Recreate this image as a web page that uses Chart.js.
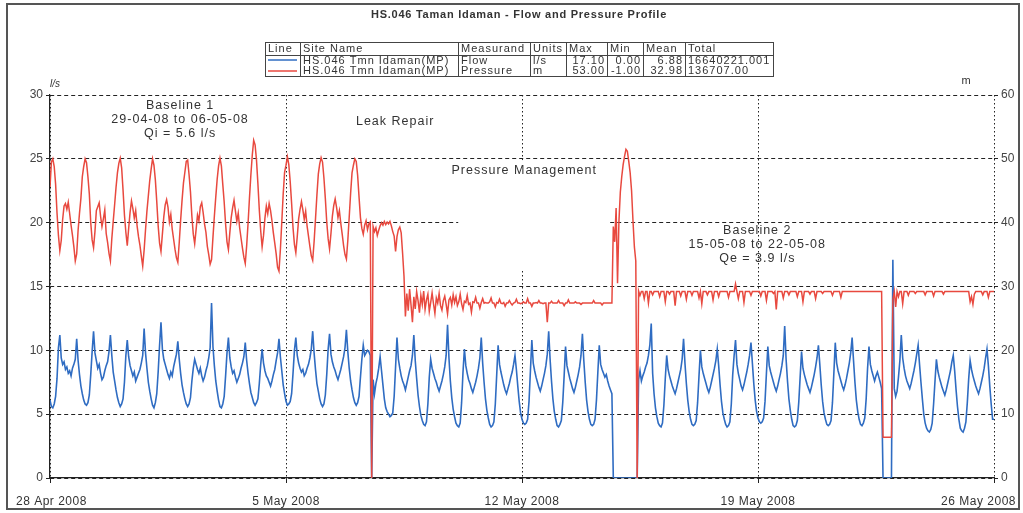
<!DOCTYPE html>
<html>
<head>
<meta charset="utf-8">
<title>HS.046 Taman Idaman - Flow and Pressure Profile</title>
<script src="https://cdn.jsdelivr.net/npm/chart.js@4.4.1/dist/chart.umd.min.js"></script>
<style>
  html, body { margin: 0; padding: 0; background: #fff; }
  #wrap { width: 1023px; height: 513px; position: relative; }
</style>
</head>
<body>
<div id="wrap"><canvas id="profileChart" width="1023" height="513"></canvas></div>
<script>
// x = hours since 28 Apr 2008 00:00, one reading per hour (one row per day)
const xTickHours = [0, 168, 336, 504, 672];
const xTickLabels = ['28 Apr 2008', '5 May 2008', '12 May 2008', '19 May 2008', '26 May 2008'];

// Flow, l/s (left axis)
const flowWk1 = [
  6.1, 5.6, 5.5, 5.8, 6.4, 7.8, 10.2, 11.2, 9.4, 8.9, 9.1, 8.5, 8.7, 8.2, 8.4, 8.0, 8.6, 8.9, 9.3, 10.9, 9.2, 8.1, 7.2, 6.6,
  6.1, 5.8, 5.7, 5.9, 6.5, 8.1, 9.9, 11.5, 9.8, 9.2, 8.6, 8.9, 8.2, 7.7, 7.9, 8.4, 8.8, 9.1, 9.9, 11.2, 9.6, 8.3, 7.6, 6.9,
  6.3, 5.9, 5.6, 5.8, 6.2, 7.5, 9.6, 10.8, 9.5, 8.8, 8.4, 8.0, 8.3, 7.6, 7.9, 8.2, 8.5, 9.0, 9.6, 11.7, 9.8, 8.6, 7.5, 6.8,
  6.2, 5.7, 5.5, 5.9, 6.6, 8.3, 10.4, 12.2, 10.1, 9.3, 8.9, 8.5, 8.1, 7.8, 8.3, 8.0, 8.7, 9.2, 9.7, 10.7, 9.3, 8.2, 7.3, 6.7,
  6.2, 5.8, 5.6, 5.8, 6.3, 7.6, 8.6, 9.3, 8.9, 8.5, 8.2, 8.6, 8.0, 7.6, 7.9, 8.4, 8.8, 9.4, 10.2, 13.7, 10.3, 8.8, 7.6, 6.8,
  6.1, 5.6, 5.5, 5.8, 6.4, 8.0, 9.8, 11.0, 9.4, 8.7, 8.2, 8.4, 7.9, 7.5, 7.8, 8.1, 8.6, 9.0, 9.5, 10.6, 9.2, 8.2, 7.4, 6.7,
  6.3, 5.9, 5.7, 5.9, 6.2, 7.4, 8.9, 10.1, 9.0, 8.4, 8.0, 7.8, 7.5, 7.2, 7.6, 8.1, 8.5, 9.2, 9.8, 10.9, 9.5, 8.4, 7.3, 6.6
];
const flowWk2 = [
  6.0, 5.7, 5.8, 6.0, 6.6, 8.2, 10.0, 11.0, 9.6, 9.0, 8.6, 8.3, 8.5, 8.0, 8.2, 8.6, 8.9, 9.4, 10.1, 11.5, 9.8, 8.5, 7.4, 6.8,
  6.2, 5.8, 5.6, 5.8, 6.5, 8.1, 10.1, 11.3, 9.7, 9.1, 8.7, 8.4, 8.0, 7.7, 8.1, 8.5, 9.0, 9.5, 10.2, 11.6, 9.9, 8.6, 7.6, 6.9,
  6.3, 5.9, 5.7, 5.9, 6.4, 7.9, 9.3, 10.4, 9.6, 9.8, 10.0, 9.9, 9.6, 0, 7.7, 6.6, 7.4, 7.9, 8.6, 9.5, 8.4, 7.3, 6.2, 5.5,
  5.2, 5.0, 4.8, 4.9, 5.1, 6.4, 8.7, 11.0, 9.3, 8.6, 8.0, 7.6, 7.3, 6.9, 7.4, 7.9, 8.4, 8.8, 9.6, 11.2, 9.2, 7.8, 6.5, 5.6,
  4.9, 4.5, 4.2, 4.1, 4.4, 5.8, 7.9, 9.3, 8.6, 8.2, 7.8, 7.5, 7.1, 6.8, 7.2, 7.6, 8.1, 8.7, 9.6, 12.0, 9.4, 7.6, 6.3, 5.4,
  4.8, 4.3, 4.1, 4.0, 4.3, 5.9, 8.3, 10.1, 8.8, 8.2, 7.7, 7.4, 7.0, 6.7, 7.1, 7.5, 8.0, 8.6, 9.4, 11.0, 9.0, 7.5, 6.2, 5.3,
  4.7, 4.2, 4.0, 4.1, 4.4, 5.8, 8.1, 10.4, 8.9, 8.3, 7.8, 7.3, 6.9, 6.6, 7.0, 7.4, 7.9, 8.3, 8.9, 9.6, 8.5, 7.2, 6.0, 5.1
];
const flowWk3 = [
  4.6, 4.3, 4.2, 4.3, 4.6, 6.0, 8.4, 10.8, 9.0, 8.4, 7.9, 7.5, 7.1, 6.8, 7.2, 7.7, 8.2, 8.8, 9.7, 11.5, 9.3, 7.6, 6.2, 5.2,
  4.6, 4.1, 4.0, 4.2, 4.5, 5.9, 8.0, 10.3, 8.8, 8.3, 7.8, 7.4, 7.0, 6.7, 7.1, 7.6, 8.1, 8.7, 9.6, 11.3, 9.2, 7.5, 6.1, 5.2,
  4.6, 4.2, 4.1, 4.2, 4.6, 6.1, 8.3, 10.4, 8.9, 8.5, 8.2, 7.9, 8.1, 7.6, 7.2, 6.9, 6.6, 0, 0, 0, 0, 0, 0, 0,
  0, 0, 0, 0, 0, 0, 0, 0, 0, 0, 0, 7.7, 8.4, 7.6, 8.0, 8.3, 8.7, 9.0, 9.6, 10.4, 12.1, 8.2, 6.6, 5.5,
  4.8, 4.3, 4.1, 4.0, 4.3, 5.7, 7.8, 9.6, 8.5, 8.0, 7.6, 7.2, 6.9, 6.6, 7.0, 7.5, 8.0, 8.5, 9.3, 10.9, 9.0, 7.4, 6.1, 5.2,
  4.6, 4.2, 4.1, 4.2, 4.5, 5.9, 8.0, 10.0, 8.7, 8.2, 7.8, 7.4, 7.0, 6.7, 7.1, 7.6, 8.1, 8.6, 9.2, 10.1, 8.8, 7.3, 6.0, 5.1,
  4.6, 4.2, 4.0, 4.1, 4.4, 5.8, 8.1, 9.6, 10.8, 8.9, 8.2, 7.7, 7.2, 6.9, 7.3, 7.8, 8.3, 8.9, 9.6, 10.6, 9.0, 7.4, 6.1, 5.2
];
const flowWk4 = [
  4.7, 4.4, 4.3, 4.4, 4.7, 6.0, 8.2, 10.3, 8.8, 8.3, 7.9, 7.5, 7.1, 6.8, 7.2, 7.7, 8.2, 8.8, 9.6, 11.9, 9.3, 7.6, 6.2, 5.3,
  4.6, 4.1, 4.0, 4.1, 4.5, 5.9, 7.9, 9.9, 8.6, 8.1, 7.7, 7.3, 7.0, 6.7, 7.1, 7.6, 8.1, 8.7, 9.4, 10.4, 8.9, 7.3, 6.0, 5.1,
  4.6, 4.2, 4.1, 4.2, 4.5, 5.9, 8.2, 10.6, 9.0, 8.4, 8.0, 7.6, 7.2, 6.9, 7.3, 7.8, 8.4, 9.0, 9.8, 11.0, 9.2, 7.5, 6.1, 5.2,
  4.6, 4.2, 4.1, 4.3, 4.7, 6.2, 8.6, 10.3, 8.9, 8.4, 8.0, 7.6, 8.0, 8.3, 7.9, 7.5, 7.0, 0, 0, 0, 0, 0, 0, 0,
  17.1, 7.0, 6.4, 6.8, 7.9, 9.2, 11.2, 9.4, 8.6, 8.0, 7.6, 7.3, 7.0, 7.4, 7.9, 8.4, 9.0, 9.7, 10.4, 8.9, 7.5, 6.2, 5.0, 4.3,
  3.9, 3.7, 3.6, 3.8, 4.3, 5.8, 7.6, 9.3, 8.4, 7.9, 7.5, 7.1, 6.8, 6.5, 6.9, 7.4, 7.9, 8.4, 9.1, 9.6, 8.4, 6.9, 5.6, 4.6,
  3.9, 3.7, 3.6, 3.9, 4.4, 5.9, 7.8, 9.2, 8.5, 8.0, 7.6, 7.2, 6.9, 6.6, 7.0, 7.5, 8.0, 8.6, 9.4, 10.1, 8.8, 7.2, 5.8, 4.6,
  4.6
];

// Pressure, m (right axis)
const pressWk1 = [
  45.6, 49.5, 50.0, 48.8, 46.0, 41.5, 38.0, 35.6, 37.2, 40.5, 42.6, 43.0, 42.1, 43.2, 41.4, 39.6, 38.0, 36.2, 34.0, 35.1, 38.8, 41.5, 43.8, 47.2,
  48.8, 50.0, 49.4, 47.2, 44.5, 40.0, 37.3, 36.1, 38.6, 41.9, 42.5, 43.1, 41.0, 39.4, 40.6, 42.0, 38.3, 36.9, 35.2, 34.0, 37.5, 40.2, 42.8, 45.5,
  47.8, 49.3, 50.1, 48.6, 45.1, 41.2, 38.5, 36.4, 39.1, 41.6, 43.4, 42.2, 40.7, 41.9, 39.5, 37.8, 36.5, 34.8, 33.2, 35.7, 38.9, 41.8, 44.2, 46.6,
  48.4, 50.0, 49.0, 46.7, 43.3, 39.5, 36.8, 35.5, 38.2, 40.9, 42.8, 43.6, 42.4, 40.1, 41.3, 39.0, 37.4, 35.8, 34.5, 33.8, 36.9, 40.4, 43.5, 46.2,
  47.9, 49.6, 49.8, 47.5, 44.8, 41.0, 38.2, 36.7, 38.9, 41.2, 40.3, 42.5, 43.1, 41.6, 39.8, 38.5, 36.3, 35.0, 33.5, 34.2, 37.7, 41.0, 44.0, 46.8,
  48.9, 50.1, 48.9, 46.0, 43.2, 39.8, 37.0, 35.8, 38.4, 40.8, 42.3, 43.5, 41.8, 40.2, 41.5, 39.2, 37.6, 36.0, 34.6, 33.6, 36.4, 39.9, 43.9, 47.5,
  50.6, 52.9, 52.2, 49.8, 46.1, 42.0, 38.7, 36.2, 38.0, 40.7, 42.6, 41.4, 43.0, 41.9, 40.3, 38.4, 36.8, 35.1, 33.0, 32.4, 35.8, 40.1, 44.5, 47.9
];
const pressWk2 = [
  49.0, 50.3, 49.1, 46.4, 43.0, 39.2, 36.6, 35.3, 37.8, 40.6, 42.1, 43.3, 42.0, 40.5, 41.8, 39.5, 37.9, 36.3, 34.8, 34.1, 37.0, 40.6, 44.3, 47.6,
  49.2, 50.2, 49.5, 47.0, 43.8, 40.1, 37.5, 35.9, 38.3, 41.0, 42.7, 43.7, 42.4, 40.8, 41.9, 39.9, 38.2, 36.4, 35.0, 34.3, 37.2, 40.9, 44.6, 47.8,
  49.0, 50.0, 49.6, 47.4, 44.0, 40.8, 39.1, 38.2, 39.6, 40.3, 38.9, 39.8, 40.1, 0, 39.4, 38.6, 39.2, 38.0, 38.8, 39.5, 40.0, 39.6, 40.2, 39.7,
  40.1, 39.8, 40.2, 39.5, 38.6, 37.9, 35.5, 37.8, 38.9, 39.3, 38.4, 35.2, 31.6, 25.3, 28.9, 26.2, 29.6, 27.1, 24.4, 28.4, 26.5, 29.2, 27.8, 25.9,
  28.6, 27.2, 29.3, 26.4, 27.9, 28.8, 26.1, 27.5, 29.0, 27.3, 25.8, 28.2, 27.4, 28.9, 27.0, 26.3, 27.8, 28.5, 27.2, 25.7, 27.9, 28.3, 27.1, 28.7,
  27.5, 28.4, 27.0, 27.6, 28.8, 27.3, 26.4, 27.7, 27.5, 28.6, 27.2, 27.4, 26.0, 27.6, 27.5, 28.3, 27.4, 27.4, 26.6, 27.5, 28.1, 27.4, 27.5, 27.4,
  27.4, 27.6, 28.2, 27.4, 27.4, 26.8, 27.5, 27.4, 28.0, 27.4, 27.3, 27.5, 26.9, 27.4, 27.4, 27.8, 27.4, 27.1, 27.4, 27.5, 28.0, 27.4, 27.4, 27.3
];
const pressWk3 = [
  27.4, 27.6, 27.4, 27.4, 28.1, 27.4, 27.4, 26.9, 27.4, 27.4, 27.5, 27.4, 27.8, 27.4, 27.4, 27.3, 27.4, 27.4, 24.4, 27.4, 27.4, 27.7, 27.4, 27.4,
  27.4, 27.4, 27.8, 27.4, 27.4, 27.4, 27.0, 27.4, 27.4, 27.9, 27.4, 27.4, 27.4, 27.4, 27.6, 27.4, 27.4, 27.4, 27.2, 27.4, 27.4, 27.4, 27.4, 27.4,
  27.4, 27.4, 27.4, 27.8, 27.4, 27.4, 27.4, 27.4, 27.4, 27.1, 27.4, 27.4, 27.4, 27.4, 27.4, 27.4, 27.4, 39.4, 37.0, 42.3, 30.5, 40.2, 44.8, 47.2,
  49.1, 50.4, 51.5, 51.2, 49.6, 47.8, 45.0, 40.3, 36.2, 34.0, 0, 29.3, 28.6, 29.2, 29.2, 28.1, 29.2, 29.2, 27.4, 29.2, 29.2, 28.7, 29.2, 29.2,
  29.2, 29.2, 28.4, 29.2, 29.2, 29.2, 27.6, 29.2, 29.2, 28.8, 29.2, 29.2, 29.2, 27.0, 29.2, 29.2, 29.2, 28.5, 29.2, 29.2, 29.2, 28.0, 29.2, 29.2,
  29.2, 28.6, 29.2, 29.2, 29.2, 29.2, 28.2, 29.2, 27.3, 29.2, 29.2, 29.2, 28.7, 29.2, 29.2, 29.2, 27.9, 29.2, 29.2, 29.2, 28.4, 29.2, 29.2, 29.2,
  29.2, 29.2, 29.2, 28.3, 29.2, 29.2, 29.2, 29.2, 30.4, 29.2, 28.1, 29.2, 29.2, 29.2, 27.5, 29.2, 29.2, 29.2, 29.2, 28.6, 29.2, 29.2, 29.2, 29.2
];
const pressWk4 = [
  29.2, 29.2, 28.5, 29.2, 29.2, 29.2, 27.8, 29.2, 29.2, 29.2, 29.2, 28.9, 29.2, 26.4, 29.2, 29.2, 29.2, 29.2, 28.2, 29.2, 29.2, 29.2, 28.7, 29.2,
  29.2, 29.2, 29.2, 29.2, 28.4, 29.2, 29.2, 29.2, 27.6, 29.2, 29.2, 29.2, 29.2, 28.8, 29.2, 29.2, 29.2, 28.1, 29.2, 29.2, 29.2, 29.2, 28.9, 29.2,
  29.2, 29.2, 29.2, 29.2, 29.2, 28.6, 29.2, 29.2, 29.2, 29.2, 29.2, 28.3, 29.2, 29.2, 29.2, 29.2, 29.2, 29.2, 29.2, 29.2, 29.2, 29.2, 29.2, 29.2,
  29.2, 29.2, 29.2, 29.2, 29.2, 29.2, 29.2, 29.2, 29.2, 29.2, 29.2, 29.2, 29.2, 29.2, 29.2, 29.2, 29.2, 6.4, 6.4, 6.4, 6.4, 6.4, 6.4, 6.4,
  27.9, 29.2, 26.8, 29.2, 28.4, 29.2, 29.2, 27.3, 29.2, 29.2, 29.2, 28.6, 29.2, 29.2, 29.2, 29.2, 28.9, 29.2, 29.2, 29.2, 29.2, 29.2, 29.2, 28.7,
  29.2, 29.2, 29.2, 29.2, 29.2, 28.5, 29.2, 29.2, 29.2, 29.2, 29.2, 29.2, 28.8, 29.2, 29.2, 29.2, 29.2, 29.2, 29.2, 29.2, 29.2, 29.2, 29.2, 29.2,
  29.2, 29.2, 29.2, 29.2, 29.2, 29.2, 29.2, 27.6, 28.4, 27.2, 28.8, 29.2, 29.2, 29.2, 29.2, 29.2, 28.7, 29.2, 29.2, 29.2, 28.3, 29.2, 29.2, 29.2,
  29.2
];

// summary table above the plot
const tableHead = ['Line', 'Site Name', 'Measurand', 'Units', 'Max', 'Min', 'Mean', 'Total'];
const flowRow = ['', 'HS.046 Tmn Idaman(MP)', 'Flow', 'l/s', '17.10', '0.00', '6.88', '16640221.001'];
const pressRow = ['', 'HS.046 Tmn Idaman(MP)', 'Pressure', 'm', '53.00', '-1.00', '32.98', '136707.00'];

const FONT = "'Liberation Sans', Arial, sans-serif";
const BLUE = '#2f6cc2';
const RED = '#e8493f';
const INK = '#333';

const toPoints = vals => vals.map((v, i) => ({ x: i, y: v }));
const flowValues = [...flowWk1, ...flowWk2, ...flowWk3, ...flowWk4];
const pressValues = [...pressWk1, ...pressWk2, ...pressWk3, ...pressWk4];

// notes placed in data space: [hour, l/s]
const notes = [
    { lines: ['Baseline 1', '29-04-08 to 06-05-08', 'Qi = 5.6 l/s'], at: [92.6, 29.2] },
    { lines: ['Leak Repair'], at: [245.7, 27.9] },
    { lines: ['Pressure Management'], at: [337.6, 24.1] },
    { lines: ['Baseline 2', '15-05-08 to 22-05-08', 'Qe = 3.9 l/s'], at: [503.5, 19.4] }
];
const pmBox = { from: 290.6, to: 397.4, top: 24.9, bottom: 16.3 };

const overlay = {
    id: 'overlay',
    beforeDatasetsDraw(chart) {
        const { ctx, scales: { x, y } } = chart;
        ctx.save();

        // white label box behind "Pressure Management"
        const bl = x.getPixelForValue(pmBox.from), br = x.getPixelForValue(pmBox.to);
        const bt = y.getPixelForValue(pmBox.top), bb = y.getPixelForValue(pmBox.bottom);
        ctx.fillStyle = '#fff';
        ctx.fillRect(bl, bt, br - bl, bb - bt);

        ctx.fillStyle = INK;
        ctx.font = `12.5px ${FONT}`;
        ctx.letterSpacing = '1px';
        ctx.textAlign = 'center';
        ctx.textBaseline = 'middle';
        notes.forEach(n => {
            const px = x.getPixelForValue(n.at[0]);
            const py = y.getPixelForValue(n.at[1]);
            n.lines.forEach((t, i) => ctx.fillText(t, px, py + i * 14));
        });
        ctx.restore();
    },
    afterDraw(chart) {
        const { ctx, scales: { x } } = chart;
        ctx.save();
        ctx.fillStyle = INK;
        ctx.textBaseline = 'middle';

        // title
        ctx.font = `bold 11px ${FONT}`;
        ctx.letterSpacing = '0.75px';
        ctx.textAlign = 'center';
        ctx.fillText('HS.046 Taman Idaman - Flow and Pressure Profile', 519, 15);

        // table
        const cols = [265, 300, 458, 530, 566, 607, 643, 685, 773];
        const rowsY = [49, 60.5, 71];
        ctx.strokeStyle = '#444';
        ctx.lineWidth = 1;
        ctx.strokeRect(cols[0] + 0.5, 42.5, cols[8] - cols[0], 34);
        ctx.beginPath();
        ctx.moveTo(cols[0], 55.5); ctx.lineTo(cols[8], 55.5);
        cols.slice(1, 8).forEach(c => { ctx.moveTo(c + 0.5, 42); ctx.lineTo(c + 0.5, 77); });
        ctx.stroke();
        ctx.font = `11px ${FONT}`;
        ctx.letterSpacing = '1px';
        [tableHead, flowRow, pressRow].forEach((row, r) => {
            row.forEach((txt, c) => {
                if (!txt) return;
                const right = r > 0 && c >= 4 && c <= 6;
                ctx.textAlign = right ? 'right' : 'left';
                ctx.fillText(txt, right ? cols[c + 1] - 2 : cols[c] + 3, rowsY[r]);
            });
        });
        ctx.lineWidth = 1.5;
        ctx.strokeStyle = BLUE;
        ctx.beginPath(); ctx.moveTo(268, 60); ctx.lineTo(297, 60); ctx.stroke();
        ctx.strokeStyle = RED;
        ctx.beginPath(); ctx.moveTo(268, 71); ctx.lineTo(297, 71); ctx.stroke();

        // axis units
        ctx.letterSpacing = '0px';
        ctx.font = `italic 10px ${FONT}`;
        ctx.textAlign = 'left';
        ctx.fillText('l/s', 50, 84);
        ctx.font = `11px ${FONT}`;
        ctx.textAlign = 'center';
        ctx.fillText('m', 966, 81);

        // date labels, kept inside the frame
        ctx.font = `12px ${FONT}`;
        ctx.letterSpacing = '0.5px';
        ctx.textAlign = 'left';
        xTickHours.forEach((h, i) => {
            const w = ctx.measureText(xTickLabels[i]).width;
            let left = x.getPixelForValue(h) - w / 2;
            left = Math.max(left, 16);
            left = Math.min(left, 1016 - w);
            ctx.fillText(xTickLabels[i], left, 502);
        });

        // outer frame
        ctx.strokeStyle = '#555';
        ctx.lineWidth = 2;
        ctx.strokeRect(7, 4, 1012, 505);
        ctx.restore();
    }
};

const ctx = document.getElementById('profileChart').getContext('2d');
new Chart(ctx, {
    type: 'line',
    data: {
        datasets: [
            {
                label: 'Pressure',
                data: toPoints(pressValues),
                yAxisID: 'y1',
                borderColor: RED,
                borderWidth: 1.5,
                order: 0
            },
            {
                label: 'Flow',
                data: toPoints(flowValues),
                yAxisID: 'y',
                borderColor: BLUE,
                borderWidth: 1.6,
                order: 1
            }
        ]
    },
    options: {
        responsive: false,
        animation: false,
        layout: { padding: { top: 95 } },
        elements: { point: { radius: 0 }, line: { tension: 0 } },
        plugins: { legend: { display: false }, tooltip: { enabled: false } },
        scales: {
            x: {
                type: 'linear',
                min: 0,
                max: 672,
                afterBuildTicks: s => { s.ticks = xTickHours.map(v => ({ value: v })); },
                afterFit: s => { s.height = 35; },
                ticks: { display: false },
                grid: { color: '#222', lineWidth: 1, tickLength: 5 },
                border: { color: '#222', width: 1.2, dash: [1.5, 2.5] }
            },
            y: {
                position: 'left',
                min: 0,
                max: 30,
                afterFit: s => { s.width = 50; },
                ticks: { stepSize: 5, color: '#444', padding: 3, font: { family: FONT, size: 12 } },
                grid: { color: '#222', lineWidth: 1, tickLength: 4 },
                border: { color: '#222', width: 1.2, dash: [4, 3] }
            },
            y1: {
                position: 'right',
                min: 0,
                max: 60,
                afterFit: s => { s.width = 29; },
                ticks: { stepSize: 10, color: '#444', padding: 3, font: { family: FONT, size: 12 } },
                grid: { drawOnChartArea: false, color: '#222', tickLength: 4 },
                border: { display: false }
            }
        }
    },
    plugins: [overlay]
});
</script>
</body>
</html>
